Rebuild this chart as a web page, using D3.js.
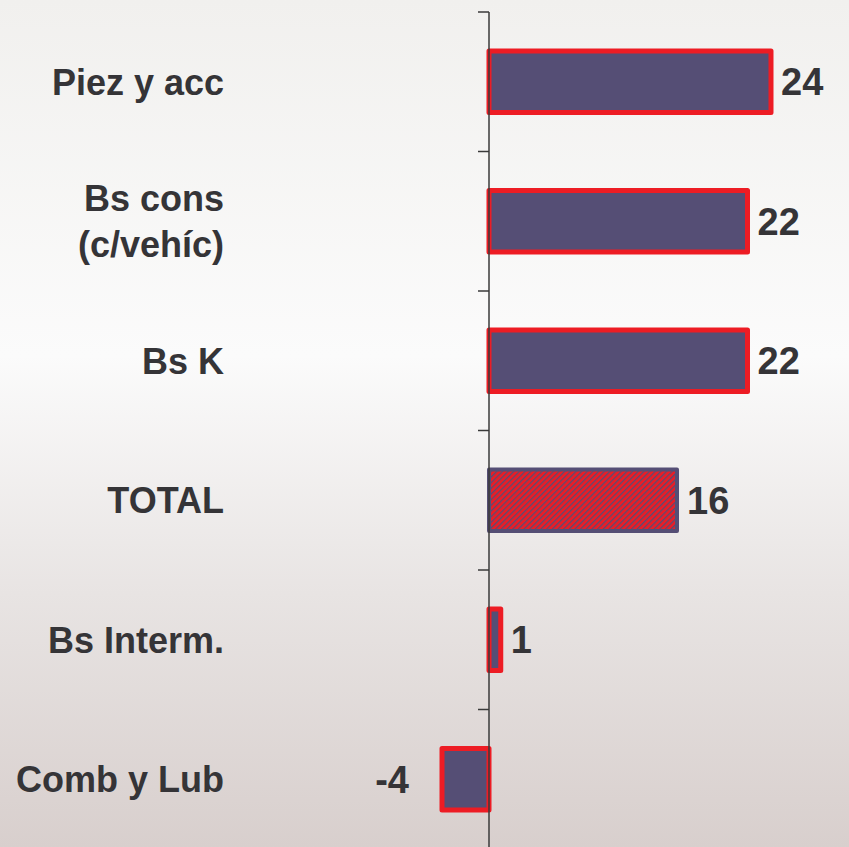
<!DOCTYPE html>
<html>
<head>
<meta charset="utf-8">
<script src="https://cdn.jsdelivr.net/npm/d3@7"></script>
<style>
  body { margin: 0; }
  svg { display: block; }
</style>
</head>
<body>
<svg id="chart"></svg>
<script>
const categories = ["Piez y acc", "Bs cons\n(c/vehíc)", "Bs K", "TOTAL", "Bs Interm.", "Comb y Lub"];
const values = [24, 22, 22, 16, 1, -4];
const totalLabel = "TOTAL";

const width = 849;
const height = 847;
const purple = "#554e75";
const red = "#ed1c24";
const textColor = "#353437";
const font = "Arial, 'Liberation Sans', Helvetica, sans-serif";

const svg = d3.select("#chart")
  .attr("width", width)
  .attr("height", height);

const defs = svg.append("defs");

// background gradient
const grad = defs.append("linearGradient")
  .attr("id", "bg")
  .attr("x1", 0).attr("y1", 0).attr("x2", 0).attr("y2", 1);
grad.append("stop").attr("offset", "0%").attr("stop-color", "#f1f0ee");
grad.append("stop").attr("offset", "42%").attr("stop-color", "#fbfbfb");
grad.append("stop").attr("offset", "70%").attr("stop-color", "#e8e4e3");
grad.append("stop").attr("offset", "100%").attr("stop-color", "#d8cfcd");

// hatch for TOTAL
const hatch = defs.append("pattern")
  .attr("id", "hatch")
  .attr("patternUnits", "userSpaceOnUse")
  .attr("width", 4)
  .attr("height", 4)
  .attr("patternTransform", "rotate(45)");
hatch.append("rect").attr("width", 4).attr("height", 4).attr("fill", red);
hatch.append("rect")
  .attr("x", 0).attr("y", 0).attr("width", 1.3).attr("height", 4)
  .attr("fill", purple);

svg.append("rect")
  .attr("width", width)
  .attr("height", height)
  .attr("fill", "url(#bg)");

// Scales
const x = d3.scaleLinear()
  .domain([-4, 24])
  .range([442, 771]);

const y = d3.scaleBand()
  .domain(categories)
  .range([12, 849])
  .paddingInner(0.56)
  .paddingOuter(0.28);

const data = categories.map((c, i) => ({ cat: c, value: values[i] }));
const x0 = x(0);
const gap = (y.step() - y.bandwidth()) / 2;

// ticks on band boundaries
svg.selectAll(".tick")
  .data(categories)
  .enter()
  .append("line")
  .attr("class", "tick")
  .attr("x1", x0 - 11).attr("x2", x0)
  .attr("y1", (d) => y(d) - gap)
  .attr("y2", (d) => y(d) - gap)
  .attr("stroke", "#3a3a3a")
  .attr("stroke-width", 1.5);

// Bars
svg.selectAll(".bar")
  .data(data)
  .enter()
  .append("rect")
  .attr("class", "bar")
  .attr("x", (d) => x(Math.min(0, d.value)))
  .attr("y", (d) => y(d.cat))
  .attr("width", (d) => Math.abs(x(d.value) - x(0)))
  .attr("height", y.bandwidth())
  .attr("fill", (d) => d.cat === totalLabel ? "url(#hatch)" : purple)
  .attr("stroke", (d) => d.cat === totalLabel ? purple : red)
  .attr("stroke-width", (d) => d.cat === totalLabel ? 4 : 5)
  .attr("stroke-linejoin", "round");

// axis line over bars
svg.append("line")
  .attr("x1", x0).attr("x2", x0)
  .attr("y1", 12).attr("y2", height)
  .attr("stroke", "#3a3a3a")
  .attr("stroke-width", 1.5);

// Value labels
svg.selectAll(".label-val")
  .data(data)
  .enter()
  .append("text")
  .attr("class", "label-val")
  .attr("x", (d) => d.value >= 0 ? x(d.value) + 10 : x(d.value) - 33)
  .attr("y", (d) => y(d.cat) + y.bandwidth() / 2)
  .attr("dy", "0.36em")
  .attr("text-anchor", (d) => d.value >= 0 ? "start" : "end")
  .text((d) => d.value)
  .style("font-family", font)
  .style("font-weight", "bold")
  .style("font-size", "38px")
  .style("fill", textColor);

// Category labels
const catLabels = svg.selectAll(".label-cat")
  .data(data)
  .enter()
  .append("text")
  .attr("class", "label-cat")
  .attr("text-anchor", "end")
  .style("font-family", font)
  .style("font-weight", "bold")
  .style("font-size", "36px")
  .style("fill", textColor);

catLabels.each(function (d) {
  const lines = d.cat.split("\n");
  const cy = y(d.cat) + y.bandwidth() / 2;
  const lh = 46;
  lines.forEach((ln, i) => {
    d3.select(this).append("tspan")
      .attr("x", 224)
      .attr("y", cy + (i - (lines.length - 1) / 2) * lh)
      .attr("dy", "0.36em")
      .text(ln);
  });
});
</script>
</body>
</html>
